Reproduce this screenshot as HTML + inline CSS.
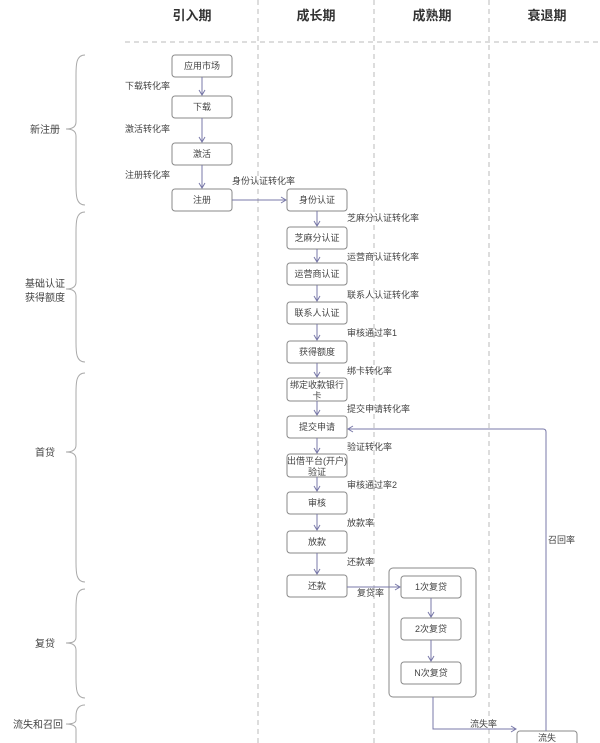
<!DOCTYPE html>
<html><head><meta charset="utf-8"><style>
html,body{margin:0;padding:0;background:#fff;}
svg{display:block;font-family:"Liberation Sans","Noto Sans CJK SC",sans-serif;}
.b{fill:#fff;stroke:#8a8a8a;stroke-width:1;}
.t{font-size:9px;fill:#444;text-anchor:middle;}
.l{font-size:9px;fill:#444;}
.h{font-size:13px;fill:#333;font-weight:bold;text-anchor:middle;}
.s{font-size:10px;fill:#444;text-anchor:middle;}
.a{stroke:#7878a8;stroke-width:1;fill:none;}
.br{stroke:#aaa;stroke-width:1;fill:none;}
.d{stroke:#bbb;stroke-width:1;stroke-dasharray:5,4;}
</style></head><body>
<svg width="600" height="743" viewBox="0 0 600 743" xmlns="http://www.w3.org/2000/svg">
<defs><marker id="m" markerWidth="8" markerHeight="8" refX="6" refY="4" orient="auto" markerUnits="userSpaceOnUse"><path d="M1,1 L6,4 L1,7" fill="none" stroke="#7878a8" stroke-width="1"/></marker></defs>
<line class="d" x1="125" y1="42" x2="600" y2="42"/>
<line class="d" x1="258" y1="0" x2="258" y2="743"/>
<line class="d" x1="374" y1="0" x2="374" y2="743"/>
<line class="d" x1="489" y1="0" x2="489" y2="743"/>
<text class="h" x="192" y="20">引入期</text>
<text class="h" x="316" y="20">成长期</text>
<text class="h" x="432" y="20">成熟期</text>
<text class="h" x="547" y="20">衰退期</text>
<!-- braces -->
<path class="br" d="M85,55 C76,55 76,65 76,75 L76,122 C76,127 72,129 66,129 C72,129 76,131 76,136 L76,185 C76,195 76,205 85,205"/>
<path class="br" d="M85,212 C76,212 76,222 76,232 L76,282 C76,287 72,289 66,289 C72,289 76,291 76,296 L76,342 C76,352 76,362 85,362"/>
<path class="br" d="M85,373 C76,373 76,383 76,393 L76,445 C76,450 72,452 66,452 C72,452 76,454 76,459 L76,562 C76,572 76,582 85,582"/>
<path class="br" d="M85,589 C76,589 76,599 76,609 L76,637 C76,642 72,643 66,643 C72,643 76,645 76,650 L76,678 C76,688 76,698 85,698"/>
<path class="br" d="M85,705 C78,705 76,710 76,716 L76,720 C76,723 72,724 66,724 C72,724 76,726 76,729 L76,743"/>
<text class="s" x="45" y="133">新注册</text>
<text class="s" x="45" y="287">基础认证</text>
<text class="s" x="45" y="301">获得额度</text>
<text class="s" x="45" y="456">首贷</text>
<text class="s" x="45" y="647">复贷</text>
<text class="s" x="38" y="728">流失和召回</text>
<!-- left column -->
<rect class="b" x="172" y="55" width="60" height="22" rx="3"/><text class="t" x="202" y="69">应用市场</text>
<rect class="b" x="172" y="96" width="60" height="22" rx="3"/><text class="t" x="202" y="110">下载</text>
<rect class="b" x="172" y="143" width="60" height="22" rx="3"/><text class="t" x="202" y="157">激活</text>
<rect class="b" x="172" y="189" width="60" height="22" rx="3"/><text class="t" x="202" y="203">注册</text>
<line class="a" x1="202" y1="77" x2="202" y2="95" marker-end="url(#m)"/>
<line class="a" x1="202" y1="118" x2="202" y2="142" marker-end="url(#m)"/>
<line class="a" x1="202" y1="165" x2="202" y2="188" marker-end="url(#m)"/>
<line class="a" x1="232" y1="200" x2="286" y2="200" marker-end="url(#m)"/>
<text class="l" x="125" y="89">下载转化率</text>
<text class="l" x="125" y="132">激活转化率</text>
<text class="l" x="125" y="178">注册转化率</text>
<text class="l" x="232" y="184">身份认证转化率</text>
<!-- middle column -->
<g>
<rect class="b" x="287" y="189" width="60" height="22" rx="3"/><text class="t" x="317" y="203">身份认证</text>
<rect class="b" x="287" y="227" width="60" height="22" rx="3"/><text class="t" x="317" y="241">芝麻分认证</text>
<rect class="b" x="287" y="263" width="60" height="22" rx="3"/><text class="t" x="317" y="277">运营商认证</text>
<rect class="b" x="287" y="302" width="60" height="22" rx="3"/><text class="t" x="317" y="316">联系人认证</text>
<rect class="b" x="287" y="341" width="60" height="22" rx="3"/><text class="t" x="317" y="355">获得额度</text>
<rect class="b" x="287" y="378" width="60" height="23" rx="3"/><text class="t" x="317" y="388">绑定收款银行</text><text class="t" x="317" y="399">卡</text>
<rect class="b" x="287" y="416" width="60" height="22" rx="3"/><text class="t" x="317" y="430">提交申请</text>
<rect class="b" x="287" y="454" width="60" height="23" rx="3"/><text class="t" x="317" y="464">出借平台(开户)</text><text class="t" x="317" y="475">验证</text>
<rect class="b" x="287" y="492" width="60" height="22" rx="3"/><text class="t" x="317" y="506">审核</text>
<rect class="b" x="287" y="531" width="60" height="22" rx="3"/><text class="t" x="317" y="545">放款</text>
<rect class="b" x="287" y="575" width="60" height="22" rx="3"/><text class="t" x="317" y="589">还款</text>
</g>
<line class="a" x1="317" y1="211" x2="317" y2="226" marker-end="url(#m)"/>
<line class="a" x1="317" y1="249" x2="317" y2="262" marker-end="url(#m)"/>
<line class="a" x1="317" y1="285" x2="317" y2="301" marker-end="url(#m)"/>
<line class="a" x1="317" y1="324" x2="317" y2="340" marker-end="url(#m)"/>
<line class="a" x1="317" y1="363" x2="317" y2="377" marker-end="url(#m)"/>
<line class="a" x1="317" y1="401" x2="317" y2="415" marker-end="url(#m)"/>
<line class="a" x1="317" y1="438" x2="317" y2="453" marker-end="url(#m)"/>
<line class="a" x1="317" y1="477" x2="317" y2="491" marker-end="url(#m)"/>
<line class="a" x1="317" y1="514" x2="317" y2="530" marker-end="url(#m)"/>
<line class="a" x1="317" y1="553" x2="317" y2="574" marker-end="url(#m)"/>
<text class="l" x="347" y="221">芝麻分认证转化率</text>
<text class="l" x="347" y="260">运营商认证转化率</text>
<text class="l" x="347" y="298">联系人认证转化率</text>
<text class="l" x="347" y="336">审核通过率1</text>
<text class="l" x="347" y="374">绑卡转化率</text>
<text class="l" x="347" y="412">提交申请转化率</text>
<text class="l" x="347" y="450">验证转化率</text>
<text class="l" x="347" y="488">审核通过率2</text>
<text class="l" x="347" y="526">放款率</text>
<text class="l" x="347" y="565">还款率</text>
<!-- repeat loans -->
<rect class="b" x="389" y="568" width="87" height="129" rx="4"/>
<rect class="b" x="401" y="576" width="60" height="22" rx="3"/><text class="t" x="431" y="590">1次复贷</text>
<rect class="b" x="401" y="618" width="60" height="22" rx="3"/><text class="t" x="431" y="632">2次复贷</text>
<rect class="b" x="401" y="662" width="60" height="22" rx="3"/><text class="t" x="431" y="676">N次复贷</text>
<line class="a" x1="347" y1="587" x2="400" y2="587" marker-end="url(#m)"/>
<text class="l" x="357" y="596">复贷率</text>
<line class="a" x1="431" y1="598" x2="431" y2="617" marker-end="url(#m)"/>
<line class="a" x1="431" y1="640" x2="431" y2="661" marker-end="url(#m)"/>
<path class="a" d="M433,697 L433,729 L516,729" marker-end="url(#m)"/>
<text class="l" x="470" y="727">流失率</text>
<rect class="b" x="517" y="731" width="60" height="22" rx="3"/><text class="t" x="547" y="741">流失</text>
<path class="a" d="M546,731 L546,432 Q546,429 543,429 L348,429" marker-end="url(#m)"/>
<text class="l" x="548" y="543">召回率</text>
</svg>
</body></html>
